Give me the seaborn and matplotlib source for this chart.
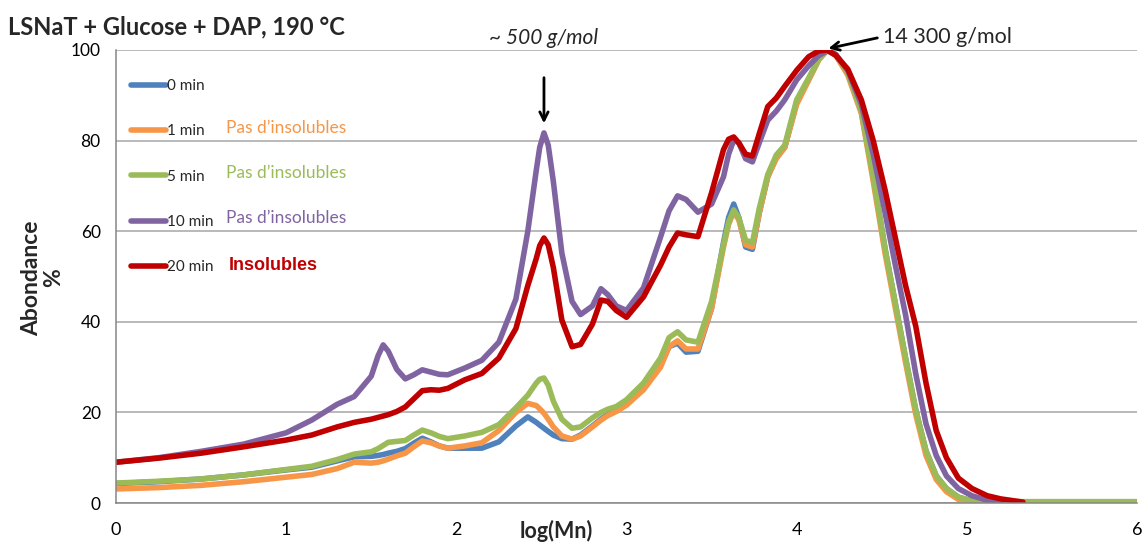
import numpy as np
import pandas as pd
import matplotlib
matplotlib.use("Agg")
import matplotlib.pyplot as plt
from matplotlib.lines import Line2D
import seaborn as sns

# ---------------- data ----------------
log_mn = [0, 0.25, 0.5, 0.75, 1.0,
          1.15, 1.3, 1.4, 1.5, 1.54,
          1.57, 1.60, 1.65, 1.7, 1.75,
          1.8, 1.85, 1.9, 1.95, 2.05,
          2.15, 2.25, 2.35, 2.42, 2.47,
          2.49, 2.515, 2.54, 2.57, 2.62,
          2.68, 2.73, 2.8, 2.85, 2.89,
          2.94, 3.0, 3.1, 3.2, 3.25,
          3.3, 3.35, 3.42, 3.5, 3.57,
          3.6, 3.63, 3.66, 3.7, 3.74,
          3.78, 3.83, 3.88, 3.93, 4.0,
          4.07, 4.13, 4.18, 4.23, 4.3,
          4.38, 4.45, 4.52, 4.58, 4.64,
          4.7, 4.76, 4.82, 4.88, 4.95,
          5.03, 5.12, 5.2, 5.33, 5.5,
          6.0]

nan = np.nan
y_0min = [4.3, 4.7, 5.3, 6.2, 7.3,
          7.9, 9.3, 10.2, 10.3, 10.5,
          10.7, 11.0, 11.4, 12.0, 13.2,
          14.3, 13.5, 12.6, 12.1, 12.1,
          12.1, 13.5, 17.0, 19.0, 17.8,
          17.2, 16.5, 15.8, 15.0, 14.2,
          14.1, 15.0, 17.0, 18.5, 19.5,
          20.5, 22.0, 25.5, 30.5, 34.5,
          35.3, 33.3, 33.5, 43.0, 57.5,
          63.0, 66.0, 63.0, 56.5, 56.0,
          64.0, 72.0, 76.3, 78.5, 88.5,
          93.5, 98.0, 100.0, 99.0, 95.0,
          86.5, 72.0, 56.0, 44.0, 32.0,
          20.5, 11.5, 6.0, 3.2, 1.3,
          0.4, 0.1, nan, nan, nan,
          nan]
y_1min = [3.1, 3.4, 3.9, 4.7, 5.7,
          6.3, 7.6, 9.0, 8.8, 9.0,
          9.3, 9.7, 10.4, 11.0, 12.4,
          13.7, 13.3, 12.6, 12.1, 12.6,
          13.3, 16.0, 20.0, 22.0, 21.5,
          20.8, 19.8, 18.5, 16.8, 14.8,
          14.1, 14.8, 16.8, 18.3, 19.3,
          20.2, 21.6, 25.0, 30.0, 34.5,
          35.8, 34.0, 34.0, 43.0, 56.5,
          61.5, 64.3, 62.5, 57.0, 56.5,
          64.0, 72.0, 76.0, 78.5, 88.0,
          93.3, 97.8, 100.0, 98.8, 94.5,
          86.0, 71.0, 55.0, 43.0, 31.0,
          19.5, 10.5, 5.2, 2.5, 0.8,
          0.2, nan, nan, nan, nan,
          nan]
y_5min = [4.4, 4.8, 5.3, 6.2, 7.4,
          8.1, 9.6, 10.8, 11.3, 12.0,
          12.7, 13.4, 13.6, 13.8, 15.0,
          16.1, 15.5, 14.7, 14.2, 14.8,
          15.6, 17.3, 21.0, 23.8, 26.5,
          27.3, 27.6, 26.0, 22.5, 18.5,
          16.5, 16.8, 18.8, 20.0, 20.7,
          21.3, 22.8, 26.5, 32.0, 36.5,
          37.8, 36.0, 35.5, 44.5, 57.0,
          62.0, 64.7, 63.0, 58.0, 57.5,
          65.0, 72.5, 76.8, 79.0, 89.0,
          93.8, 98.0, 100.0, 99.0, 95.0,
          86.5, 72.0, 56.0, 44.0, 32.0,
          20.5, 11.5, 6.0, 3.2, 1.3,
          0.5, 0.3, 0.3, 0.3, 0.3,
          0.3]
y_10min = [9.0, 10.0, 11.4, 13.0, 15.5,
           18.3, 21.8, 23.5, 28.0, 32.5,
           34.9, 33.5, 29.5, 27.4, 28.3,
           29.4, 28.9, 28.4, 28.3, 29.8,
           31.5, 35.5, 45.0, 60.0, 73.5,
           78.5, 81.7, 79.0, 71.0, 55.2,
           44.5, 41.6, 43.5, 47.3, 46.0,
           43.5, 42.5, 47.5, 58.7, 64.5,
           67.8, 67.0, 64.2, 66.0, 72.0,
           77.0, 80.1, 79.5, 76.0, 75.3,
           79.5, 84.5, 86.5, 89.0, 93.4,
           96.5, 98.8, 99.8, 99.0, 95.5,
           88.0, 77.0, 64.0, 52.5, 41.5,
           28.5, 17.5, 10.5, 6.0, 3.2,
           1.6, 0.6, 0.2, nan, nan,
           nan]
y_20min = [9.0, 9.9, 11.0, 12.4, 13.9,
           15.0, 16.8, 17.8, 18.5, 18.9,
           19.2, 19.5, 20.2, 21.2, 23.0,
           24.8, 25.0, 24.9, 25.3, 27.2,
           28.6, 32.0, 38.5, 48.0, 54.0,
           56.8, 58.5, 57.0, 52.0, 40.4,
           34.5, 35.0, 39.5, 44.8, 44.5,
           42.5, 41.0, 45.5, 52.5, 56.5,
           59.6, 59.2, 58.8, 68.5, 78.0,
           80.3, 80.8, 79.5, 77.0, 76.6,
           81.5, 87.5, 89.4, 92.0, 95.5,
           98.5, 99.8, 100.0, 98.8, 95.8,
           89.0, 80.0, 69.0, 58.5, 48.0,
           39.0, 26.5, 16.0, 10.0, 5.5,
           3.2, 1.6, 0.9, 0.2, nan,
           nan]

series_names = ["0 min", "1 min", "5 min", "10 min", "20 min"]
series_values = [y_0min, y_1min, y_5min, y_10min, y_20min]
series_colors = ["#4F81BD", "#F79646", "#9BBB59", "#8064A2", "#C00000"]
notes = ["", "Pas d\u2019insolubles", "Pas d\u2019insolubles", "Pas d\u2019insolubles", "Insolubles"]

x_ticks = [0, 1, 2, 3, 4, 5, 6]
y_ticks = [0, 20, 40, 60, 80, 100]

title_text = "LSNaT + Glucose + DAP, 190 \u00b0C"
ann_low = "~ 500 g/mol"
ann_high = "14 300 g/mol"
x_label = "log(Mn)"
y_label = "Abondance\n%"

# ---------------- long-form table ----------------
frames = []
for name, vals in zip(series_names, series_values):
    frames.append(pd.DataFrame({"logMn": log_mn, "Abondance": vals, "serie": name}))
df = pd.concat(frames, ignore_index=True).dropna()

# ---------------- style ----------------
sns.set_style("white")
plt.rcParams["font.family"] = ["Lato", "DejaVu Sans"]

fig = plt.figure(figsize=(11.43, 5.44), dpi=100)
ax = fig.add_axes([116 / 1143, 41 / 544, 1021 / 1143, 453 / 544])

palette = dict(zip(series_names, series_colors))
sns.lineplot(data=df, x="logMn", y="Abondance", hue="serie", hue_order=series_names,
             palette=palette, sort=False, estimator=None, linewidth=4.0,
             legend=False, ax=ax)
for ln in ax.get_lines():
    ln.set_solid_joinstyle("round")
    ln.set_solid_capstyle("round")

ax.set_xlim(0, 6)
ax.set_ylim(0, 100)
ax.set_xticks(x_ticks)
ax.set_yticks(y_ticks)
ax.set_xticklabels([str(t) for t in x_ticks], fontsize=13)
ax.set_yticklabels([str(t) for t in y_ticks], fontsize=12.5)
ax.set_xlabel("")
ax.set_ylabel("")
ax.yaxis.grid(True, color="#A6A6A6", linewidth=1.1)
ax.xaxis.grid(False)
ax.set_axisbelow(True)
for s in ["top", "right"]:
    ax.spines[s].set_visible(False)
for s in ["left", "bottom"]:
    ax.spines[s].set_color("#868686")
    ax.spines[s].set_linewidth(1.1)
ax.tick_params(axis="both", direction="out", length=5, width=1, color="#868686",
               labelcolor="#000000")
ax.tick_params(axis="x", pad=9)
ax.tick_params(axis="y", pad=6)

# legend
handles = [Line2D([0], [0], color=c, lw=4.0, solid_capstyle="round") for c in series_colors]
leg = ax.legend(handles, series_names, loc="upper left", bbox_to_anchor=(0.0145, 0.936),
                frameon=False, fontsize=11, handlelength=2.3, handletextpad=0.1,
                labelspacing=2.05, borderpad=0, borderaxespad=0)

# side notes
note_y = [None, 82.8, 72.8, 62.9, 52.5]
for note, c, yy in zip(notes, series_colors, note_y):
    if note:
        if note == "Insolubles":
            ax.text(0.66, yy, note, color=c, fontsize=13, fontweight="bold",
                    family=["Liberation Sans", "DejaVu Sans"], ha="left", va="center")
        else:
            ax.text(0.645, yy, note, color=c, fontsize=12.5, ha="left", va="center")

# annotations
ax.annotate("", xy=(2.515, 83.2), xytext=(2.515, 94.5),
            arrowprops=dict(arrowstyle="->,head_length=0.6,head_width=0.3", color="black", lw=2))
ax.annotate("", xy=(4.17, 100.2), xytext=(4.49, 102.8), annotation_clip=False,
            arrowprops=dict(arrowstyle="->,head_length=0.6,head_width=0.3", color="black", lw=2))
ax.text(2.19, 102.6, ann_low, fontsize=15, fontstyle="italic", ha="left", va="center", clip_on=False)
ax.text(4.51, 102.9, ann_high, fontsize=15.5, ha="left", va="center", clip_on=False)

# titles / labels
fig.text(8 / 1143, 1 - 27 / 544, title_text, fontsize=17, fontweight="bold", ha="left", va="center")
fig.text(556 / 1143, 2 / 544, x_label, fontsize=15.5, fontweight="bold", ha="center", va="bottom")
fig.text(43 / 1143, 1 - 278 / 544, y_label, fontsize=16.5, fontweight="bold", rotation=90,
         ha="center", va="center", multialignment="center", linespacing=1.05)

fig.savefig("out.png", dpi=100)
